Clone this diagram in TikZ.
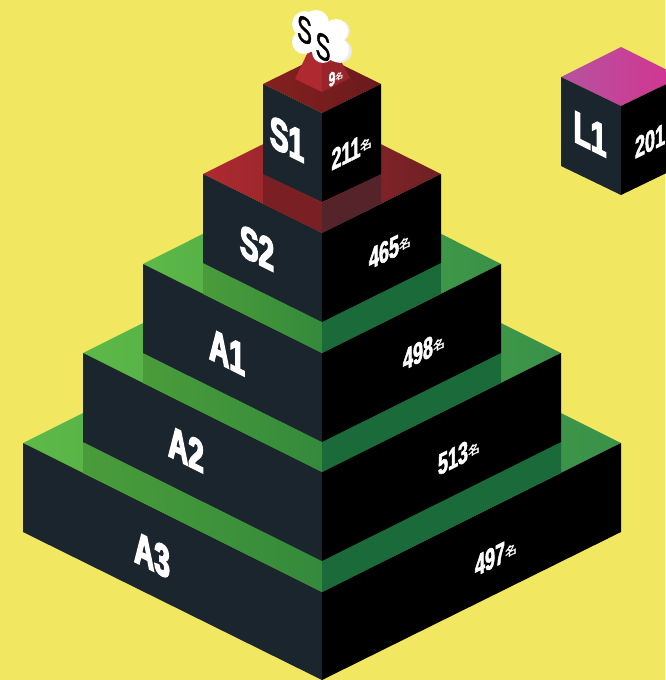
\documentclass[tikz,border=0pt]{standalone}
\usepackage{fontspec}
\newfontfamily\tierfont[UprightFont=* Bold,FakeStretch=0.62,FakeBold=3.4]{Liberation Sans}
\newfontfamily\countfont[UprightFont=* Bold,FakeStretch=0.6,FakeBold=1.8]{Liberation Sans}
\newfontfamily\ssfont[FakeStretch=0.6,FakeBold=1.2]{Liberation Sans}
\newfontfamily\cjkfont[UprightFont=* Bold]{Noto Sans CJK JP}
\definecolor{bgyellow}{HTML}{F2E761}
\definecolor{facedark}{HTML}{1B252E}
\definecolor{grnlight}{HTML}{5DB947}
\definecolor{grnright}{HTML}{389148}
\definecolor{ledgeleft}{HTML}{4A9C3A}
\definecolor{ledgemid}{HTML}{348A3B}
\definecolor{ledgedark}{HTML}{1A6A3A}
\definecolor{redlight}{HTML}{AE2A30}
\definecolor{redright}{HTML}{6F2024}
\definecolor{redmid}{HTML}{7A2024}
\definecolor{reddark}{HTML}{55232A}
\definecolor{capleft}{HTML}{85201F}
\definecolor{capright}{HTML}{6A1A1E}
\definecolor{pinkleft}{HTML}{B653A0}
\definecolor{pinkright}{HTML}{D4328F}
\newcommand{\mei}[1][12]{\raisebox{0.12em}{\cjkfont\fontsize{#1}{#1}\selectfont 名}}
\begin{document}
\begin{tikzpicture}[
  x=1pt, y=-1pt,
  leftface/.style={fill=facedark},
  rightface/.style={fill=black},
  grntop/.style={left color=grnlight, right color=grnright},
  redtop/.style={left color=redlight, right color=redright},
  captop/.style={left color=capleft, right color=capright},
  pinktop/.style={left color=pinkleft, right color=pinkright},
  ledgel/.style={left color=ledgeleft, right color=ledgemid},
  ledger/.style={fill=ledgedark},
  tier/.style={font=\tierfont\fontsize{45}{45}\selectfont, text=white, inner sep=0pt, transform shape, cm={1,-0.5,0,1,(#1)}},
  tally/.style={font=\countfont\fontsize{30}{30}\selectfont, text=white, inner sep=0pt, transform shape, cm={1,0.5,0,1,(#1)}},
  ssletter/.style={font=\ssfont\fontsize{37}{37}\selectfont, text=black, inner sep=0pt, transform shape, cm={1,-0.5,0,1,(#1)}},
]
  \useasboundingbox (0,0) rectangle (665,680);
  \fill[bgyellow] (0,0) rectangle (665,680);

  % L1 cube
  \shade[pinktop] (561,77) -- (621,47) -- (681,77) -- (621,106) -- cycle;
  \fill[leftface] (561,77) -- (621,106) -- (621,195) -- (561,166) -- cycle;
  \fill[rightface] (621,106) -- (681,77) -- (681,166) -- (621,195) -- cycle;
  \node[tier={590,134}] (l1) {L1};
  \node[tally={650,141}] (l1n) {201};

  % A3 block
  \shade[grntop] (23,443) -- (322,294) -- (621,443) -- (322,592) -- cycle;
  \fill[leftface] (23,443) -- (322,592) -- (322,680) -- (23,532) -- cycle;
  \fill[rightface] (322,592) -- (621,443) -- (621,532) -- (322,680) -- cycle;
  \shade[ledgel] (83,442) -- (322,561) -- (322,592) -- (83,473) -- cycle;
  \fill[ledger] (322,561) -- (561,442) -- (561,473) -- (322,592) -- cycle;
  \node[tier={152,555}] (a3) {A3};
  \node[tally={496,556}] (a3n) {497\mei};

  % A2 block
  \shade[grntop] (83,353) -- (322,234) -- (561,353) -- (322,472) -- cycle;
  \fill[leftface] (83,353) -- (322,472) -- (322,561) -- (83,442) -- cycle;
  \fill[rightface] (322,472) -- (561,353) -- (561,442) -- (322,561) -- cycle;
  \shade[ledgel] (143,353) -- (322,442) -- (322,472) -- (143,383) -- cycle;
  \fill[ledger] (322,442) -- (501,353) -- (501,383) -- (322,472) -- cycle;
  \node[tier={186,449}] (a2) {A2};
  \node[tally={459,455}] (a2n) {513\mei};

  % A1 block
  \shade[grntop] (143,264) -- (322,174) -- (501,264) -- (322,353) -- cycle;
  \fill[leftface] (143,264) -- (322,353) -- (322,442) -- (143,353) -- cycle;
  \fill[rightface] (322,353) -- (501,264) -- (501,353) -- (322,442) -- cycle;
  \shade[ledgel] (203,263) -- (322,322) -- (322,353) -- (203,294) -- cycle;
  \fill[ledger] (322,322) -- (441,263) -- (441,294) -- (322,353) -- cycle;
  \node[tier={227,352}] (a1) {A1};
  \node[tally={424,350}] (a1n) {498\mei};

  % S2 block
  \shade[redtop] (203,174) -- (322,115) -- (441,174) -- (322,233) -- cycle;
  \fill[leftface] (203,174) -- (322,233) -- (322,322) -- (203,263) -- cycle;
  \fill[rightface] (322,233) -- (441,174) -- (441,263) -- (322,322) -- cycle;
  \fill[redmid] (263,174) -- (322,203) -- (322,233) -- (263,204) -- cycle;
  \fill[reddark] (322,203) -- (381,174) -- (381,204) -- (322,233) -- cycle;
  \node[tier={257,248}] (s2) {S2};
  \node[tally={390,249}] (s2n) {465\mei};

  % S1 block
  \shade[captop] (263,84) -- (322,55) -- (381,84) -- (322,113) -- cycle;
  \fill[leftface] (263,84) -- (322,113) -- (322,202) -- (263,174) -- cycle;
  \fill[rightface] (322,113) -- (381,84) -- (381,174) -- (322,202) -- cycle;
  \node[tier={287,139}] (s1) {S1};
  \node[tally={352,150}] (s1n) {211\mei};

  % SS trophy
  \fill[redlight] (308,52) -- (295,79) -- (322,92) -- (322,52) -- cycle;
  \fill[redlight!88!black] (322,92) -- (322,52) -- (336,52) -- (350,78) -- cycle;
  \node[tally={336,77}, font=\countfont\fontsize{20}{20}\selectfont] (ssn) {9\mei[8]};
  \fill[black!8] (339,31) circle (11) (340,51) circle (12);
  \fill[white] (305,24) circle (13) (304,42) circle (12) (316,23) circle (13) (336,31) circle (12) (337,50) circle (12) (323,52) circle (11) (320,38) circle (16);
  \node[ssletter={304.5,30}] (ssa) {S};
  \node[ssletter={323,47}] (ssb) {S};
\end{tikzpicture}
\end{document}
